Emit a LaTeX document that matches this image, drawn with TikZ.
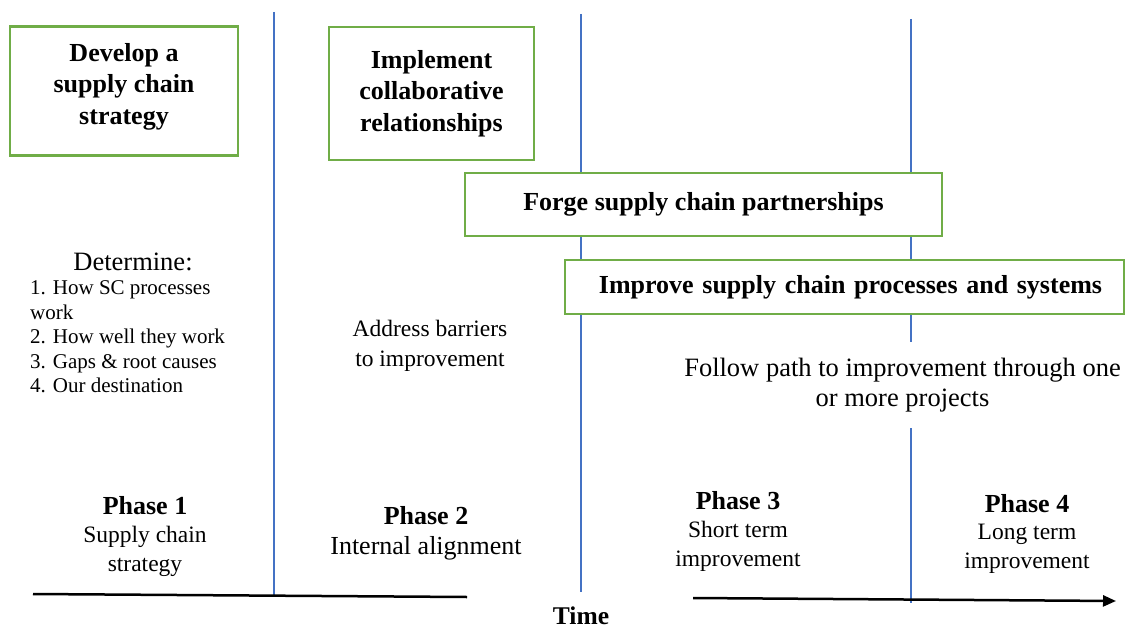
\documentclass[tikz,border=0pt]{standalone}
\usepackage{fontspec}
\setmainfont{Liberation Serif}
\usetikzlibrary{arrows.meta, positioning}
\definecolor{boxgreen}{RGB}{112, 173, 71}
\definecolor{lineblue}{RGB}{68, 114, 196}

\begin{document}
\begin{tikzpicture}[x=1pt, y=-1pt, node distance=11pt,
    stage/.style={draw=boxgreen, line width=2.5pt, fill=white, align=center, inner sep=0pt,
      font=\bfseries\fontsize{26}{31.5}\selectfont},
    divider/.style={lineblue, line width=1.5pt},
    phasehead/.style={inner sep=0pt, font=\bfseries\fontsize{26}{30}\selectfont},
    phasesub/.style={inner sep=0pt, align=center, font=\fontsize{23.5}{28.5}\selectfont}]
  \useasboundingbox (0,0) rectangle (1126,628);
  % phase dividers
  \draw[divider] (274,12) -- (274,597);
  \draw[divider] (581,14) -- (581,592);
  \draw[divider] (911,19) -- (911,603);
  % time axis
  \coordinate (t0) at (33,594);
  \coordinate (t1) at (467,597);
  \coordinate (t2) at (693,598);
  \coordinate (t3) at (1116,601);
  \draw[line width=2.5pt] (t0) -- (t1);
  \draw[line width=2.5pt, -{Triangle[length=13pt, width=11pt]}] (t2) -- (t3);
  \node[font=\bfseries\fontsize{25.5}{30}\selectfont, inner sep=0pt] (time) at (581,615.5) {Time};

  % activity boxes
  \node[stage, minimum width=228pt, minimum height=129pt, text depth=15pt] (strategy) at (124,91) {Develop a\\supply chain\\strategy};
  \node[stage, minimum width=205pt, minimum height=133pt] (collab) at (431.5,93.5) {Implement\\collaborative\\relationships};
  \node[stage, minimum width=477pt, minimum height=63pt] (forge) at (703.5,204.5) {Forge supply chain partnerships};
  \node[stage, minimum width=559pt, minimum height=54pt, text width=559pt] (improve) at (844.5,287) {\hspace*{12pt}Improve supply chain processes and systems};

  % what happens in each phase
  \node[inner sep=0pt, font=\fontsize{26.5}{30}\selectfont] (determine) at (133,262) {Determine:};
  \node[inner sep=0pt, anchor=north west, align=left, font=\fontsize{21}{24.5}\selectfont] (steps) at (30,280.5)
    {1. How SC processes\\work\\2. How well they work\\3. Gaps \& root causes\\4. Our destination};
  \node[inner sep=0pt, align=center, font=\fontsize{23.5}{30}\selectfont] (barriers) at (430,346) {Address barriers\\to improvement};
  \node[fill=white, inner xsep=2pt, inner ysep=15.5pt, align=center, font=\fontsize{26.5}{30}\selectfont] (projects) at (902.5,385)
    {Follow path to improvement through one\\or more projects};

  % phase labels
  \node[phasehead] (ph1) at (145,506) {Phase 1};
  \node[phasesub, below=of ph1] (ph1sub) {Supply chain\\strategy};
  \node[phasehead] (ph2) at (426,516) {Phase 2};
  \node[phasesub, below=of ph2, font=\fontsize{26}{30}\selectfont] (ph2sub) {Internal alignment};
  \node[phasehead] (ph3) at (738,501) {Phase 3};
  \node[phasesub, below=of ph3] (ph3sub) {Short term\\improvement};
  \node[phasehead] (ph4) at (1027,504) {Phase 4};
  \node[phasesub, below=of ph4] (ph4sub) {Long term\\improvement};
\end{tikzpicture}
\end{document}
